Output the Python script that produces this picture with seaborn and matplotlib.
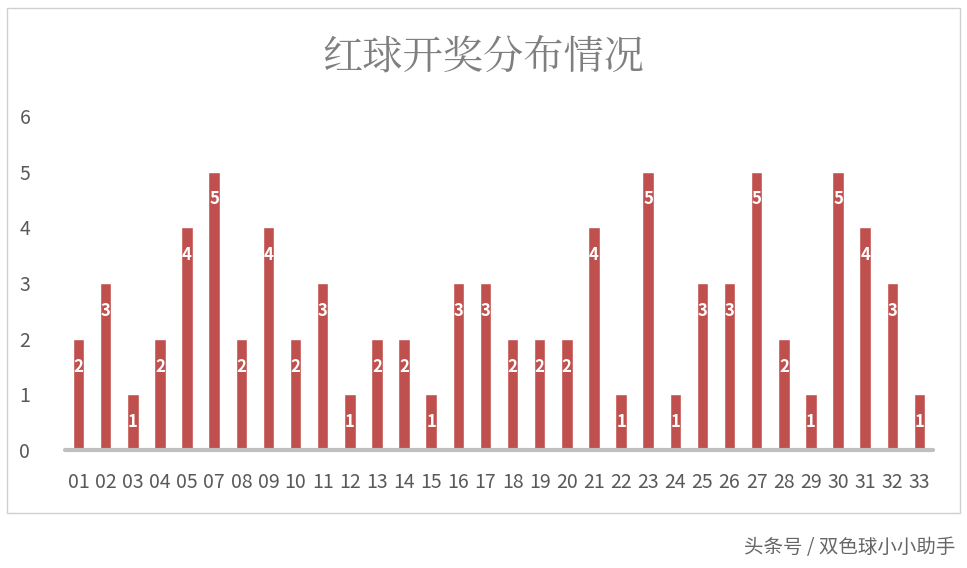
import matplotlib
matplotlib.use("Agg")
import matplotlib.pyplot as plt
import seaborn as sns
import pandas as pd
from matplotlib.patches import Rectangle

sns.set_style("white")
plt.rcParams['font.family'] = ['Noto Sans CJK SC', 'DejaVu Sans']

numbers = ["01","02","03","04","05","07","08","09","10","11","12","13","14","15","16","17",
           "18","19","20","21","22","23","24","25","26","27","28","29","30","31","32","33"]
counts = [2,3,1,2,4,5,2,4,2,3,1,2,2,1,3,3,2,2,2,4,1,5,1,3,3,5,2,1,5,4,3,1]
yticks = [0,1,2,3,4,5,6]

df = pd.DataFrame({"num": numbers, "count": counts})

fig = plt.figure(figsize=(9.67, 5.68), dpi=100)
fig.patches.append(Rectangle((7/967, 1-513/568), 953/967, 505/568, transform=fig.transFigure,
                             fill=False, edgecolor="#d0d0d0", linewidth=1))
ax = fig.add_axes([65/967, 1-450/568, 868/967, 334/568])
sns.barplot(data=df, x="num", y="count", color="#c0504d", saturation=1, width=0.42, ax=ax)
ax.set_ylim(0, 6)
ax.set_xlim(-0.5, len(numbers)-0.5)
ax.set_yticks(yticks)
ax.axhline(0, color="#bfbfbf", linewidth=3, clip_on=False)
for i, v in enumerate(counts):
    ax.text(i, v-0.5, str(v), ha="center", va="center", color="white", fontweight="bold", fontsize=12)
for s in ax.spines.values():
    s.set_visible(False)
ax.set_xlabel(""); ax.set_ylabel("")
ax.tick_params(axis="both", length=0, labelsize=14, labelcolor="#595959")
ax.tick_params(axis="y", pad=25)
ax.tick_params(axis="x", pad=16)
fig.text(0.5, 1-57/568, "红球开奖分布情况", ha="center", va="center", fontsize=29,
         color="#7f7f7f", family=['Noto Serif CJK SC', 'Noto Sans CJK SC'])
fig.text(955/967, 1-548/568, "头条号 / 双色球小小助手", ha="right", va="center", fontsize=14, color="#666666")
fig.savefig("out.png", dpi=100)
